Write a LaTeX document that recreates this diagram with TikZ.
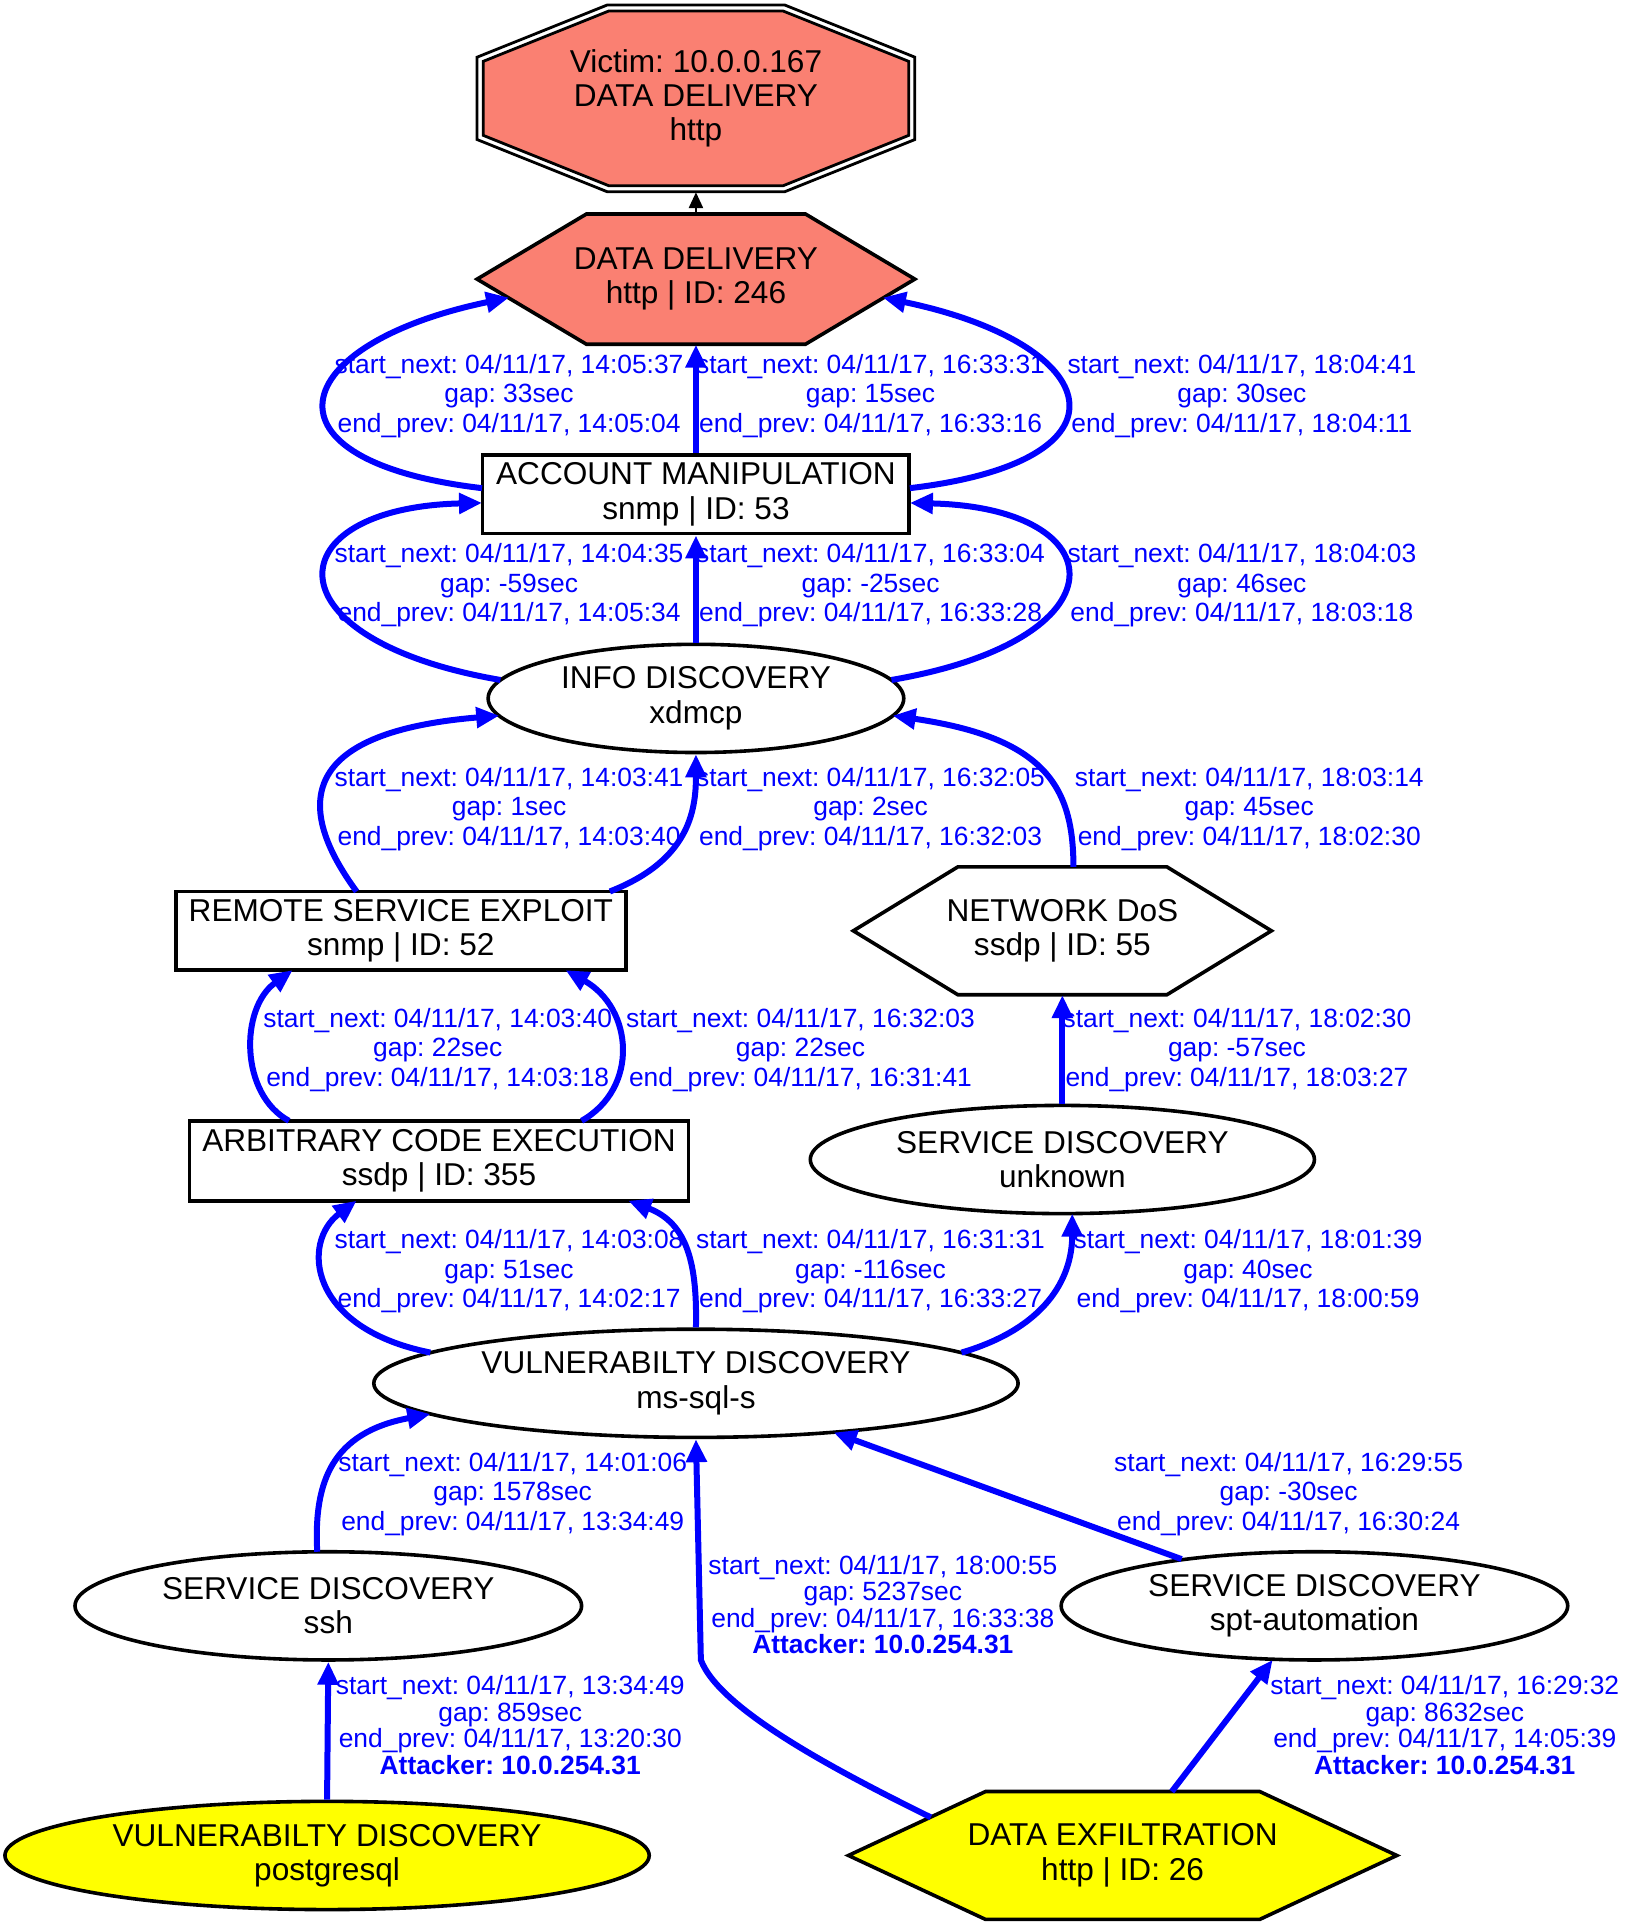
\documentclass[tikz,border=0pt]{standalone}
\usepackage{fontspec}
\setmainfont{Liberation Sans}
\usetikzlibrary{arrows.meta,shapes.geometric,backgrounds}
\newcommand\ux{0.6149pt}
\newcommand\nodefont{\fontsize{15.8}{17.2}\selectfont}
\newcommand\lblfont{\fontsize{13.2}{14.76}\selectfont}
\newcommand\lblfontb{\fontsize{13.2}{13.3}\selectfont}
\definecolor{salmon}{HTML}{FA8072}
\definecolor{yel}{HTML}{FFFF00}
\definecolor{blu}{HTML}{0000FF}
\frenchspacing
\begin{document}
\begin{tikzpicture}[x=0.6149pt,y=-0.6149pt,
 conn/.style={draw=blu, line width=3pt, -{Triangle[length=11.5pt,width=10pt]}},
 lbl/.style={text=blu, font=\lblfont, align=center, inner sep=0pt},
 lblb/.style={text=blu, font=\lblfontb, align=center, inner sep=0pt},
 boxnode/.style={draw, line width=1.8pt, rectangle, inner sep=0pt, font=\nodefont, align=center},
 ellnode/.style={draw, line width=1.8pt, ellipse, inner sep=0pt, font=\nodefont, align=center},
 txtnode/.style={rectangle, inner sep=0pt, font=\nodefont, align=center},
 hexline/.style={draw, line width=1.8pt, line join=miter},
]
\useasboundingbox (0,0) rectangle (1323,1568);

% nodes
\node[txtnode, minimum width=356*\ux, minimum height=152*\ux] (victim) at (566,80) {Victim: 10.0.0.167\\DATA DELIVERY\\http};
\node[txtnode, minimum width=356*\ux, minimum height=106*\ux] (dd) at (566,227) {DATA DELIVERY\\http | ID: 246};
\node[boxnode, minimum width=347*\ux, minimum height=64*\ux] (am) at (566,402) {ACCOUNT MANIPULATION\\snmp | ID: 53};
\node[ellnode, minimum width=338*\ux, minimum height=88*\ux] (info) at (566,568) {INFO DISCOVERY\\xdmcp};
\node[boxnode, minimum width=366*\ux, minimum height=64*\ux] (rse) at (326,757) {REMOTE SERVICE EXPLOIT\\snmp | ID: 52};
\node[txtnode, minimum width=340*\ux, minimum height=104*\ux] (ndos) at (864,757) {NETWORK DoS\\ssdp | ID: 55};
\node[boxnode, minimum width=406*\ux, minimum height=65*\ux] (ace) at (357,944) {ARBITRARY CODE EXECUTION\\ssdp | ID: 355};
\node[ellnode, minimum width=410*\ux, minimum height=88*\ux] (sdu) at (864,943) {SERVICE DISCOVERY\\unknown};
\node[ellnode, minimum width=524*\ux, minimum height=88*\ux] (vuln) at (566,1125) {VULNERABILTY DISCOVERY\\ms-sql-s};
\node[ellnode, minimum width=412*\ux, minimum height=88*\ux] (ssh) at (267,1306) {SERVICE DISCOVERY\\ssh};
\node[ellnode, minimum width=412*\ux, minimum height=88*\ux] (spt) at (1069,1306) {SERVICE DISCOVERY\\spt-automation};
\node[ellnode, fill=yel, minimum width=524*\ux, minimum height=88*\ux] (pg) at (266,1509) {VULNERABILTY DISCOVERY\\postgresql};
\node[txtnode, minimum width=446*\ux, minimum height=104*\ux] (exfil) at (913,1509) {DATA EXFILTRATION\\http | ID: 26};

\begin{scope}[on background layer]
\draw[line width=1.4pt, fill=white] (victim.center) ++(-178,-33.5) -- ++(106,-42.5) -- ++(144,0) -- ++(106,42.5) -- ++(0,67) -- ++(-106,42.5) -- ++(-144,0) -- ++(-106,-42.5) -- cycle;
\draw[line width=1.4pt, fill=salmon] (victim.center) ++(-173,-30.1) -- ++(102,-40.9) -- ++(142,0) -- ++(102,40.9) -- ++(0,60.2) -- ++(-102,40.9) -- ++(-142,0) -- ++(-102,-40.9) -- cycle;
\draw[hexline, fill=salmon] (dd.center) ++(-178,0) -- ++(89,-53) -- ++(178,0) -- ++(89,53) -- ++(-89,53) -- ++(-178,0) -- cycle;
\draw[hexline] (ndos.center) ++(-170,0) -- ++(85,-52) -- ++(170,0) -- ++(85,52) -- ++(-85,52) -- ++(-170,0) -- cycle;
\draw[hexline, fill=yel] (exfil.center) ++(-223,0) -- ++(111.5,-52) -- ++(223,0) -- ++(111.5,52) -- ++(-111.5,52) -- ++(-223,0) -- cycle;
\end{scope}

% edges
\draw[line width=1.3pt, -{Triangle[length=8pt,width=7pt]}] (dd.north) -- (victim.south);
\draw[conn] ([shift={(-174,-5)}]am.center) .. controls (205,375) and (232,280) .. ([shift={(-152,15)}]dd.center);
\draw[conn] (am.north) -- (dd.south);
\draw[conn] ([shift={(174,-5)}]am.center) .. controls (927,375) and (900,280) .. ([shift={(152,15)}]dd.center);
\draw[conn] ([shift={(-159,-15)}]info.center) .. controls (215,520) and (224,413) .. ([shift={(-174,7)}]am.center);
\draw[conn] (info.north) -- (am.south);
\draw[conn] ([shift={(159,-15)}]info.center) .. controls (917,520) and (908,413) .. ([shift={(174,7)}]am.center);
\draw[conn] ([shift={(-36,-32)}]rse.center) .. controls (235,650) and (250,595) .. ([shift={(-160,14)}]info.center);
\draw[conn] ([shift={(170,-32)}]rse.center) .. controls (560,700) and (566,660) .. (info.south);
\draw[conn] ([shift={(9,-52)}]ndos.center) .. controls (873,640) and (850,600) .. ([shift={(160,14)}]info.center);
\draw[conn] ([shift={(-122,-32.5)}]ace.center) .. controls (195,890) and (195,820) .. ([shift={(-88,32)}]rse.center);
\draw[conn] ([shift={(116,-32.5)}]ace.center) .. controls (520,885) and (515,820) .. ([shift={(134,32)}]rse.center);
\draw[conn] (sdu.north) -- (ndos.south);
\draw[conn] ([shift={(-216,-25)}]vuln.center) .. controls (250,1080) and (245,1010) .. ([shift={(-67,32.5)}]ace.center);
\draw[conn] (vuln.north) .. controls (567,1030) and (560,995) .. ([shift={(154,32.5)}]ace.center);
\draw[conn] ([shift={(216,-25)}]vuln.center) .. controls (850,1080) and (872,1040) .. ([shift={(8,44)}]sdu.center);
\draw[conn] ([shift={(-9,-44)}]ssh.center) .. controls (255,1205) and (270,1165) .. ([shift={(-216,25)}]vuln.center);
\draw[conn] ([shift={(-108,-38)}]spt.center) -- ([shift={(112,40)}]vuln.center);
\draw[conn] ([shift={(-156,-31)}]exfil.center) .. controls (680,1440) and (585,1390) .. (570,1350) -- (vuln.south);
\draw[conn] (pg.north) -- (ssh.south);
\draw[conn] ([shift={(40,-52)}]exfil.center) -- ([shift={(-34,44)}]spt.center);

% labels
\node[lbl] (l1) at (414,322) {start\_next: 04/11/17, 14:05:37\\gap: 33sec\\end\_prev: 04/11/17, 14:05:04};
\node[lbl] (l2) at (708,322) {start\_next: 04/11/17, 16:33:31\\gap: 15sec\\end\_prev: 04/11/17, 16:33:16};
\node[lbl] (l3) at (1010,322) {start\_next: 04/11/17, 18:04:41\\gap: 30sec\\end\_prev: 04/11/17, 18:04:11};
\node[lbl] (l4) at (414,476) {start\_next: 04/11/17, 14:04:35\\gap: -59sec\\end\_prev: 04/11/17, 14:05:34};
\node[lbl] (l5) at (708,476) {start\_next: 04/11/17, 16:33:04\\gap: -25sec\\end\_prev: 04/11/17, 16:33:28};
\node[lbl] (l6) at (1010,476) {start\_next: 04/11/17, 18:04:03\\gap: 46sec\\end\_prev: 04/11/17, 18:03:18};
\node[lbl] (l7) at (414,658) {start\_next: 04/11/17, 14:03:41\\gap: 1sec\\end\_prev: 04/11/17, 14:03:40};
\node[lbl] (l8) at (708,658) {start\_next: 04/11/17, 16:32:05\\gap: 2sec\\end\_prev: 04/11/17, 16:32:03};
\node[lbl] (l9) at (1016,658) {start\_next: 04/11/17, 18:03:14\\gap: 45sec\\end\_prev: 04/11/17, 18:02:30};
\node[lbl] (l10) at (356,854) {start\_next: 04/11/17, 14:03:40\\gap: 22sec\\end\_prev: 04/11/17, 14:03:18};
\node[lbl] (l11) at (651,854) {start\_next: 04/11/17, 16:32:03\\gap: 22sec\\end\_prev: 04/11/17, 16:31:41};
\node[lbl] (l12) at (1006,854) {start\_next: 04/11/17, 18:02:30\\gap: -57sec\\end\_prev: 04/11/17, 18:03:27};
\node[lbl] (l13) at (414,1034) {start\_next: 04/11/17, 14:03:08\\gap: 51sec\\end\_prev: 04/11/17, 14:02:17};
\node[lbl] (l14) at (708,1034) {start\_next: 04/11/17, 16:31:31\\gap: -116sec\\end\_prev: 04/11/17, 16:33:27};
\node[lbl] (l15) at (1015,1034) {start\_next: 04/11/17, 18:01:39\\gap: 40sec\\end\_prev: 04/11/17, 18:00:59};
\node[lbl] (l16) at (417,1215) {start\_next: 04/11/17, 14:01:06\\gap: 1578sec\\end\_prev: 04/11/17, 13:34:49};
\node[lbl] (l17) at (1048,1215) {start\_next: 04/11/17, 16:29:55\\gap: -30sec\\end\_prev: 04/11/17, 16:30:24};
\node[lblb] (l18) at (718,1305) {start\_next: 04/11/17, 18:00:55\\gap: 5237sec\\end\_prev: 04/11/17, 16:33:38\\\textbf{Attacker: 10.0.254.31}};
\node[lblb] (l19) at (415,1403) {start\_next: 04/11/17, 13:34:49\\gap: 859sec\\end\_prev: 04/11/17, 13:20:30\\\textbf{Attacker: 10.0.254.31}};
\node[lblb] (l20) at (1175,1403) {start\_next: 04/11/17, 16:29:32\\gap: 8632sec\\end\_prev: 04/11/17, 14:05:39\\\textbf{Attacker: 10.0.254.31}};
\end{tikzpicture}
\end{document}
